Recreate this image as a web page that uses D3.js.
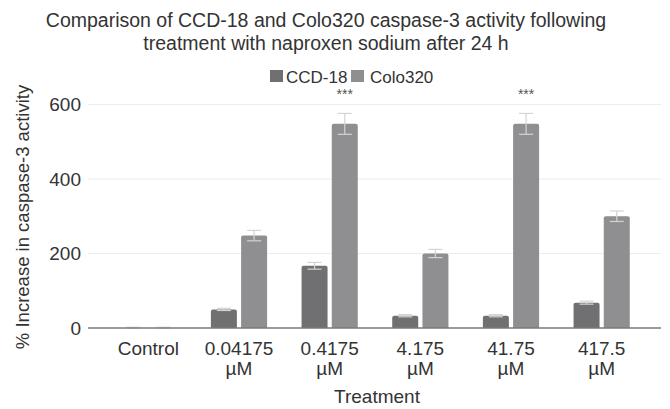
<!DOCTYPE html>
<html>
<head>
<meta charset="utf-8">
<script src="https://cdn.jsdelivr.net/npm/d3@7"></script>
<style>
  body { margin: 0; background: #fff; }
  svg { display: block; font-family: "Liberation Sans", Arial, sans-serif; }
</style>
</head>
<body>
<svg id="chart" width="670" height="409"></svg>
<script>
const categories = ["Control", "0.04175 µM", "0.4175 µM", "4.175 µM", "41.75 µM", "417.5 µM"]
const series = ["CCD-18", "Colo320"]
const ccdValues = [0, 50, 167, 33, 33, 68]
const ccdErrors = [2, 3, 9, 3, 3, 4]
const coloValues = [0, 248, 548, 200, 548, 300]
const coloErrors = [2, 14, 28, 11, 28, 14]
const significant = ["", "", "***", "", "***", ""]
const yTicks = [0, 200, 400, 600]
const colors = {"CCD-18": "#707072", "Colo320": "#8f8f91"}

const rows = categories.map((c, i) => ({
  cat: c,
  bars: [
    {s: "CCD-18", v: ccdValues[i], e: ccdErrors[i]},
    {s: "Colo320", v: coloValues[i], e: coloErrors[i]}
  ],
  sig: significant[i]
}))

const svg = d3.select("#chart")
const textColor = "#333"

const x0 = d3.scaleBand().domain(categories).range([103, 647]).paddingInner(0.38).paddingOuter(0.19)
const x1 = d3.scaleBand().domain(series).range([0, x0.bandwidth()]).paddingInner(0.14)
const y = d3.scaleLinear().domain([0, 600]).range([328, 104.5])

// title
svg.append("text")
  .attr("x", 326).attr("y", 27)
  .attr("text-anchor", "middle")
  .attr("font-size", 19.5).attr("fill", textColor)
  .selectAll("tspan")
  .data(["Comparison of CCD-18 and Colo320 caspase-3 activity following",
         "treatment with naproxen sodium after 24 h"])
  .join("tspan")
  .attr("x", 326).attr("dy", (d, i) => i ? 23 : 0)
  .text(d => d)

// gridlines
svg.append("g").selectAll("line")
  .data(yTicks.filter(d => d > 0))
  .join("line")
  .attr("x1", 88).attr("x2", 661)
  .attr("y1", d => y(d)).attr("y2", d => y(d))
  .attr("stroke", "#ececec").attr("stroke-width", 1)

// y axis labels
const yAxis = svg.append("g")
  .attr("transform", "translate(88,0)")
  .call(d3.axisLeft(y).tickValues(yTicks).tickSize(0).tickPadding(7))
yAxis.select(".domain").remove()
yAxis.selectAll("text")
  .attr("font-size", 19).attr("fill", textColor)
  .attr("font-family", "Liberation Sans, Arial, sans-serif")

// bars
const groups = svg.append("g").selectAll("g")
  .data(rows)
  .join("g")
  .attr("transform", d => `translate(${x0(d.cat)},0)`)

groups.selectAll("path.bar")
  .data(d => d.bars)
  .join("path")
  .attr("class", "bar")
  .attr("fill", d => colors[d.s])
  .attr("d", d => {
    const x = x1(d.s), w = x1.bandwidth(), top = y(d.v), bot = y(0)
    const r = Math.min(2, (bot - top) / 2)
    return `M${x},${bot}V${top + r}Q${x},${top} ${x + r},${top}H${x + w - r}Q${x + w},${top} ${x + w},${top + r}V${bot}Z`
  })

// error bars
const err = groups.selectAll("g.err")
  .data(d => d.bars)
  .join("g")
  .attr("class", "err")
  .attr("stroke", "#d4d4d4").attr("stroke-width", 1.2)
err.append("line")
  .attr("x1", d => x1(d.s) + x1.bandwidth() / 2)
  .attr("x2", d => x1(d.s) + x1.bandwidth() / 2)
  .attr("y1", d => y(d.v + d.e)).attr("y2", d => y(Math.max(0, d.v - d.e)))
err.selectAll("line.cap")
  .data(d => [{b: d, val: d.v + d.e}, {b: d, val: Math.max(0, d.v - d.e)}])
  .join("line")
  .attr("class", "cap")
  .attr("x1", d => x1(d.b.s) + x1.bandwidth() / 2 - 7)
  .attr("x2", d => x1(d.b.s) + x1.bandwidth() / 2 + 7)
  .attr("y1", d => y(d.val)).attr("y2", d => y(d.val))

// significance stars
groups.filter(d => d.sig)
  .append("text")
  .attr("x", x1("Colo320") + x1.bandwidth() / 2)
  .attr("y", 99)
  .attr("text-anchor", "middle")
  .attr("font-size", 14).attr("fill", "#555")
  .text(d => d.sig)

// baseline
svg.append("line")
  .attr("x1", 88).attr("x2", 661)
  .attr("y1", y(0)).attr("y2", y(0))
  .attr("stroke", "#7a7a7a").attr("stroke-width", 1.5)

// x labels
const xl = svg.append("g").selectAll("text")
  .data(categories)
  .join("text")
  .attr("x", d => x0(d) + x0.bandwidth() / 2)
  .attr("y", 355)
  .attr("text-anchor", "middle")
  .attr("font-size", 19).attr("fill", textColor)
xl.selectAll("tspan")
  .data(d => d.split(" ").map(t => ({t, x: x0(d) + x0.bandwidth() / 2})))
  .join("tspan")
  .attr("x", d => d.x).attr("dy", (d, i) => i ? 20 : 0)
  .text(d => d.t)

// axis titles
svg.append("text")
  .attr("x", 377).attr("y", 403)
  .attr("text-anchor", "middle")
  .attr("font-size", 19).attr("fill", textColor)
  .text("Treatment")

svg.append("text")
  .attr("transform", "translate(29,217) rotate(-90)")
  .attr("text-anchor", "middle")
  .attr("font-size", 18.5).attr("fill", textColor)
  .text("% Increase in caspase-3 activity")

// legend
const legend = svg.append("g").attr("transform", "translate(270,70)")
const items = legend.selectAll("g")
  .data(series)
  .join("g")
  .attr("transform", (d, i) => `translate(${i ? 81 : 0},0)`)
items.append("rect")
  .attr("width", 13).attr("height", 12)
  .attr("fill", d => colors[d])
items.append("text")
  .attr("x", d => d === "CCD-18" ? 16 : 19).attr("y", 12.5)
  .attr("font-size", 17).attr("fill", textColor)
  .text(d => d)
</script>
</body>
</html>
